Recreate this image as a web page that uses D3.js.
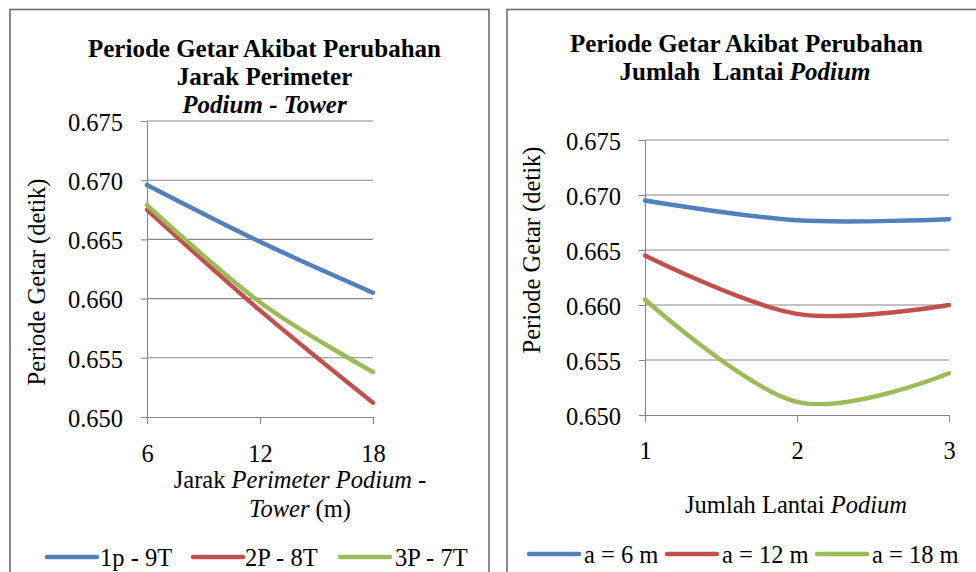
<!DOCTYPE html>
<html>
<head>
<meta charset="utf-8">
<script src="https://cdn.jsdelivr.net/npm/d3@7"></script>
<style>
  html, body { margin: 0; padding: 0; background: #ffffff; }
  svg { display: block; }
  svg text { font-family: "Liberation Serif", "Times New Roman", serif; white-space: pre; }
</style>
</head>
<body>
<svg id="chart" width="976" height="572"></svg>
<script>
// Left panel: period vs podium-tower perimeter distance (m)
const distances = [6, 12, 18];
const period1p9T = [0.6696, 0.6648, 0.6605];
const period2P8T = [0.6675, 0.6590, 0.6512];
const period3P7T = [0.6679, 0.6597, 0.6538];
const distanceNames = ["1p - 9T", "2P - 8T", "3P - 7T"];

// Right panel: period vs number of podium floors
const floors = [1, 2, 3];
const periodA6 = [0.6695, 0.6677, 0.6678];
const periodA12 = [0.6645, 0.6592, 0.6600];
const periodA18 = [0.6605, 0.6512, 0.6538];
const floorNames = ["a = 6 m", "a = 12 m", "a = 18 m"];

// Shared period axis ticks (detik)
const periodTicks = [0.650, 0.655, 0.660, 0.665, 0.670, 0.675];

const seriesColors = ["#4f81bd", "#c0504d", "#9bbb59"];
const FONT = 24.5;
const TITLE_FONT = 25;

const svg = d3.select("#chart");

function addRuns(textSel, runs) {
  runs.forEach(r => {
    const t = textSel.append("tspan").text(r.t);
    if (r.i) t.attr("font-style", "italic");
  });
}

function panel(o) {
  const g = svg.append("g");

  // outer chart border
  g.append("rect")
    .attr("x", o.frame[0]).attr("y", o.frame[1])
    .attr("width", o.frame[2]).attr("height", o.frame[3])
    .attr("fill", "none").attr("stroke", "#6f6f6f").attr("stroke-width", 1.6);

  const x = d3.scaleLinear().domain(d3.extent(o.xValues)).range([o.left, o.right]);
  const y = d3.scaleLinear()
    .domain([periodTicks[0], periodTicks[periodTicks.length - 1]])
    .range([o.bottom, o.top]);

  // horizontal gridlines
  g.append("g").selectAll("line")
    .data(periodTicks.slice(1)).join("line")
    .attr("x1", o.left).attr("x2", o.right)
    .attr("y1", d => y(d)).attr("y2", d => y(d))
    .attr("stroke", "#878787").attr("stroke-width", 1.1);

  // value axis
  const ya = g.append("g").attr("transform", `translate(${o.left},0)`)
    .call(d3.axisLeft(y).tickValues(periodTicks).tickFormat(d3.format(".3f"))
      .tickSize(6).tickSizeOuter(0).tickPadding(18));
  // category axis
  const xa = g.append("g").attr("transform", `translate(0,${o.bottom})`)
    .call(d3.axisBottom(x).tickValues(o.xValues).tickFormat(d3.format("d"))
      .tickSize(7).tickSizeOuter(0).tickPadding(o.xPad));

  [ya, xa].forEach(a => {
    a.attr("font-family", null).attr("font-size", FONT);
    a.selectAll("path,line").attr("stroke", "#878787").attr("stroke-width", 1.1);
    a.selectAll("text").attr("fill", "#000");
  });
  ya.selectAll("text").attr("dy", "0.38em");

  // series
  const line = d3.line()
    .x((d, i) => x(o.xValues[i]))
    .y(d => y(d))
    .curve(d3.curveCardinal.tension(0));
  o.series.forEach((s, k) => {
    g.append("path").datum(s)
      .attr("d", line)
      .attr("fill", "none")
      .attr("stroke", seriesColors[k])
      .attr("stroke-width", 4.4)
      .attr("stroke-linecap", "round");
  });

  // title
  o.title.forEach(l => {
    const t = g.append("text")
      .attr("x", l.x).attr("y", l.y)
      .attr("text-anchor", "middle")
      .attr("font-weight", "bold")
      .attr("font-size", TITLE_FONT);
    addRuns(t, l.runs);
  });

  // value axis title
  g.append("text")
    .attr("transform", `translate(${o.yLabel[0]},${o.yLabel[1]}) rotate(-90)`)
    .attr("text-anchor", "middle")
    .attr("font-size", FONT)
    .text("Periode Getar (detik)");

  // category axis title
  o.xLabel.forEach(l => {
    const t = g.append("text")
      .attr("x", l.x).attr("y", l.y)
      .attr("text-anchor", "middle")
      .attr("font-size", FONT);
    addRuns(t, l.runs);
  });

  // legend
  o.names.forEach((n, k) => {
    const [lx, tx] = o.legend.pos[k];
    g.append("line")
      .attr("x1", lx).attr("x2", lx + 50)
      .attr("y1", o.legend.lineY).attr("y2", o.legend.lineY)
      .attr("stroke", seriesColors[k]).attr("stroke-width", 4.4)
      .attr("stroke-linecap", "round");
    g.append("text")
      .attr("x", tx).attr("y", o.legend.textY)
      .attr("font-size", FONT)
      .text(n);
  });
}

panel({
  frame: [10, 9.5, 479, 600],
  left: 147, right: 373, top: 121, bottom: 417, xPad: 20.5,
  xValues: distances,
  series: [period1p9T, period2P8T, period3P7T],
  names: distanceNames,
  title: [
    { x: 264.5, y: 57, runs: [{ t: "Periode Getar Akibat Perubahan" }] },
    { x: 264.5, y: 85, runs: [{ t: "Jarak Perimeter" }] },
    { x: 264.5, y: 113, runs: [{ t: "Podium - Tower", i: true }] }
  ],
  yLabel: [45, 282],
  xLabel: [
    { x: 300, y: 488, runs: [{ t: "Jarak " }, { t: "Perimeter Podium", i: true }, { t: " -" }] },
    { x: 300, y: 517, runs: [{ t: "Tower", i: true }, { t: " (m)" }] }
  ],
  legend: { lineY: 557, textY: 566, pos: [[47, 100], [193, 245], [340, 395]] }
});

panel({
  frame: [507, 9.5, 500, 600],
  left: 645, right: 949, top: 140, bottom: 415, xPad: 19.5,
  xValues: floors,
  series: [periodA6, periodA12, periodA18],
  names: floorNames,
  title: [
    { x: 746.5, y: 52, runs: [{ t: "Periode Getar Akibat Perubahan" }] },
    { x: 745, y: 80, runs: [{ t: "Jumlah  Lantai " }, { t: "Podium", i: true }] }
  ],
  yLabel: [540, 250],
  xLabel: [
    { x: 796, y: 512.5, runs: [{ t: "Jumlah Lantai " }, { t: "Podium", i: true }] }
  ],
  legend: { lineY: 554, textY: 563, pos: [[529, 584], [667, 722], [817, 872]] }
});
</script>
</body>
</html>
